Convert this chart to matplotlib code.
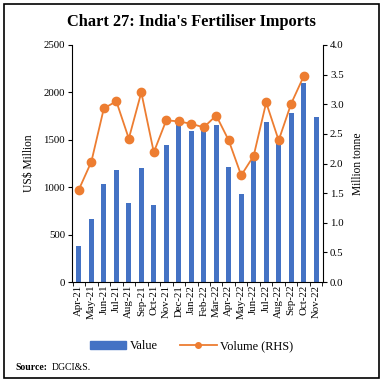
import matplotlib
matplotlib.use("Agg")
import matplotlib.pyplot as plt
from matplotlib.patches import Rectangle
from matplotlib.lines import Line2D
from matplotlib.patches import Patch

months = ["Apr-21", "May-21", "Jun-21", "Jul-21", "Aug-21", "Sep-21", "Oct-21", "Nov-21",
          "Dec-21", "Jan-22", "Feb-22", "Mar-22", "Apr-22", "May-22", "Jun-22", "Jul-22",
          "Aug-22", "Sep-22", "Oct-22", "Nov-22"]
value_usd_mn = [379, 660, 1036, 1180, 836, 1204, 808, 1440, 1657, 1590, 1600, 1654,
                1208, 930, 1296, 1692, 1480, 1780, 2103, 1738]
volume_mt = [1.56, 2.03, 2.93, 3.05, 2.42, 3.20, 2.19, 2.73, 2.71, 2.67, 2.61, 2.81,
             2.39, 1.80, 2.13, 3.03, 2.39, 3.01, 3.47]

plt.rcParams['font.family'] = ['Liberation Serif', 'DejaVu Serif']
fs = 7.8
bar_c = "#4472C4"
line_c = "#ED7D31"

fig = plt.figure(figsize=(3.83, 3.85), dpi=100)
W, H = 383, 385
ax = fig.add_axes([72 / W, 1 - 282 / H, (323 - 72) / W, (282 - 45) / H])
x = list(range(len(months)))
ax.bar(x, value_usd_mn, width=0.38, color=bar_c, zorder=2)
ax.set_ylim(0, 2500)
ax.set_yticks(range(0, 2501, 500))
ax.set_xlim(-0.55, len(months) - 0.45)
ax.set_xticks(x)
ax.set_xticklabels(months, rotation=90, fontsize=fs)
ax.tick_params(axis='x', length=0, pad=2)
ax.set_xticks([i + 0.5 for i in range(-1, len(months))], minor=True)
ax.tick_params(axis='x', which='minor', length=3, direction='out')
ax.tick_params(axis='y', labelsize=fs, length=3, pad=2)
ax.set_ylabel("US$ Million", fontsize=fs + 0.5, labelpad=6)
for s in ['top', 'right']:
    ax.spines[s].set_visible(False)

ax2 = ax.twinx()
ax2.plot(range(len(volume_mt)), volume_mt, color=line_c, marker='o', markersize=6,
         linewidth=1.3, zorder=3)
ax2.set_ylim(0, 4.0)
ax2.set_yticks([i * 0.5 for i in range(9)])
ax2.set_yticklabels([f"{i * 0.5:.1f}" for i in range(9)])
ax2.tick_params(axis='y', labelsize=fs, length=3, pad=2)
ax2.set_ylabel("Million tonne", fontsize=fs + 0.5, labelpad=6)
for s in ['top', 'left']:
    ax2.spines[s].set_visible(False)
ax2.spines['bottom'].set_visible(False)

fig.text(0.5, 1 - 22 / H, "Chart 27: India's Fertiliser Imports", ha='center', va='center',
         fontsize=11.8, fontweight='bold')

handles = [Patch(color=bar_c), Line2D([], [], color=line_c, marker='o', markersize=4, linewidth=1.3)]
fig.legend(handles, ["Value", "Volume (RHS)"], loc='center', bbox_to_anchor=(0.5, 1 - 346 / H),
           ncol=2, frameon=False, fontsize=fs + 1, handlelength=3, handleheight=0.6,
           columnspacing=1.8, handletextpad=0.3)

fig.text(15 / W, 1 - 367 / H, "Source:", fontsize=7, fontweight='bold', va='center')
fig.text(52 / W, 1 - 367 / H, "DGCI&S.", fontsize=7, va='center')

fig.add_artist(Rectangle((4 / W, 1 - 378 / H), (379 - 4) / W, (378 - 4) / H,
                         transform=fig.transFigure, fill=False, edgecolor='black', linewidth=1.2))

fig.savefig("out.png", dpi=100)
